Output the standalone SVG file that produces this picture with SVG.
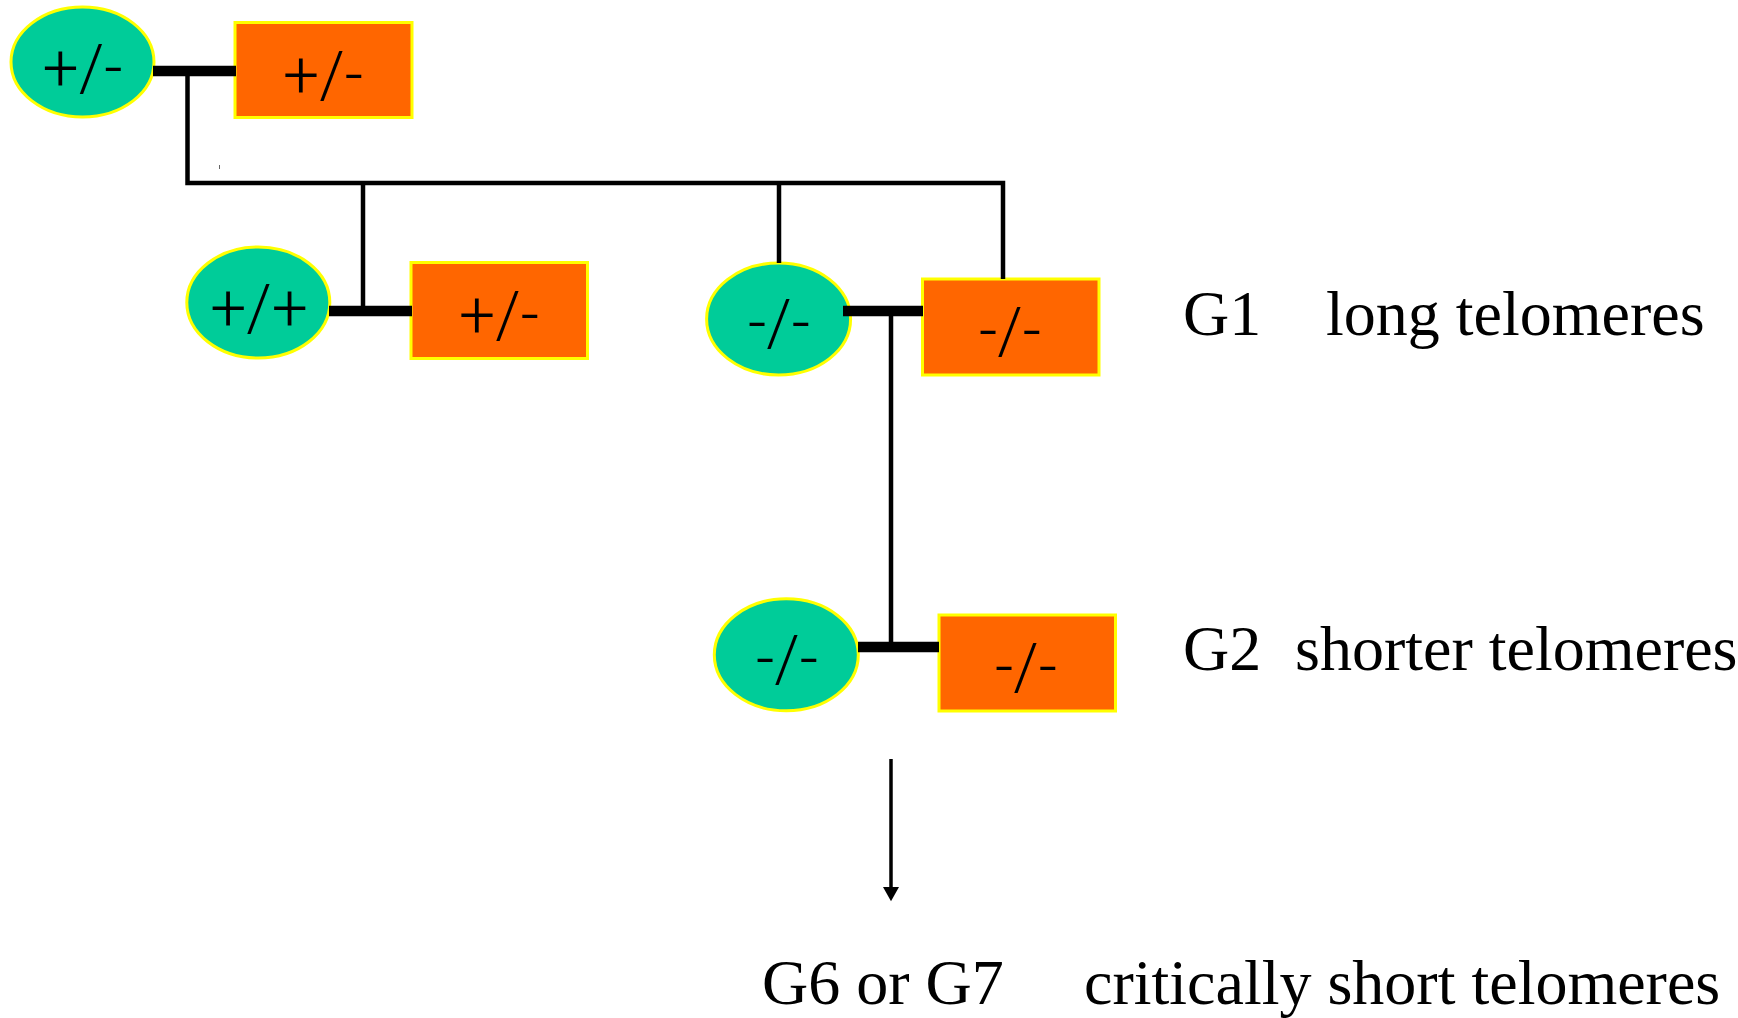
<svg xmlns="http://www.w3.org/2000/svg" width="1738" height="1018" viewBox="0 0 1738 1018">
<style>
.fe{fill:#00CC99;stroke:#FFFF00;stroke-width:3}
.fr{fill:#FF6600;stroke:#FFFF00;stroke-width:3}
.lb{font-family:Roboto,"Liberation Sans",Arial,sans-serif;font-weight:300;font-size:64px;fill:#000;text-anchor:middle}
.tx{font-family:"Liberation Serif","Times New Roman",serif;font-size:64px;fill:#000}
.thin{stroke:#000;stroke-width:4.5;fill:none}
.thick{stroke:#000;stroke-width:10.5;fill:none}
</style>
<defs>
<marker id="ah" markerWidth="18" markerHeight="16" refX="0" refY="9" orient="auto" markerUnits="userSpaceOnUse" viewBox="0 0 16 18">
<path d="M0,0 L16,9 L0,18 Z" fill="#000"/>
</marker>
</defs>
<rect width="1738" height="1018" fill="#fff"/>
<g id="n1"><ellipse class="fe" cx="82.5" cy="62" rx="71.5" ry="55"/><text class="lb" x="82.5" y="90">+/-</text></g>
<g id="n2"><rect class="fr" x="235" y="22.5" width="177" height="95"/><text class="lb" x="323" y="97">+/-</text></g>
<g id="n3"><ellipse class="fe" cx="258.3" cy="302.5" rx="71.5" ry="55.5"/><text class="lb" x="259" y="330">+/+</text></g>
<g id="n4"><rect class="fr" x="411" y="262.5" width="176.5" height="96"/><text class="lb" x="499" y="337">+/-</text></g>
<g id="n5"><ellipse class="fe" cx="778.6" cy="319" rx="72" ry="56"/><text class="lb" x="779" y="345">-/-</text></g>
<g id="n6"><rect class="fr" x="922.5" y="279" width="176.5" height="96"/><text class="lb" x="1010" y="353">-/-</text></g>
<g id="n7"><ellipse class="fe" cx="786.3" cy="654.8" rx="72" ry="56"/><text class="lb" x="787" y="681">-/-</text></g>
<g id="n8"><rect class="fr" x="939" y="615" width="176.5" height="96"/><text class="lb" x="1026" y="689">-/-</text></g>
<g id="connectors">
<line class="thick" x1="153" y1="71" x2="236" y2="71"/>
<polyline class="thin" points="187.5,76 187.5,183 1003,183 1003,279"/>
<line class="thin" x1="363" y1="183" x2="363" y2="307"/>
<line class="thick" x1="329" y1="311" x2="412" y2="311"/>
<line class="thin" x1="779" y1="183" x2="779" y2="263"/>
<line class="thick" x1="843" y1="311" x2="923" y2="311"/>
<line class="thin" x1="891" y1="316" x2="891" y2="643"/>
<line class="thick" x1="858" y1="647" x2="939" y2="647"/>
<line stroke="#000" stroke-width="3.5" x1="891" y1="759" x2="891" y2="887" marker-end="url(#ah)"/>
<line stroke="#666" stroke-width="1" x1="219.5" y1="165" x2="219.5" y2="169"/>
</g>
<g id="labels">
<text class="tx" y="335"><tspan x="1183">G1</tspan><tspan x="1326">long telomeres</tspan></text>
<text class="tx" y="670"><tspan x="1183">G2</tspan><tspan x="1295">shorter telomeres</tspan></text>
<text class="tx" y="1004"><tspan x="762">G6 or G7</tspan><tspan x="1084">critically short telomeres</tspan></text>
</g>
</svg>
